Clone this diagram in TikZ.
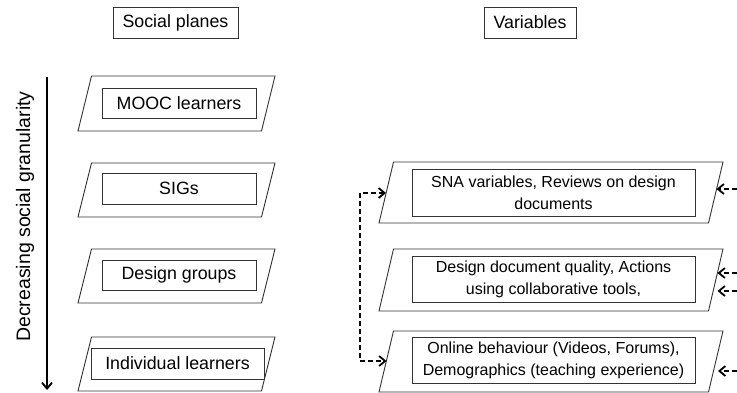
\documentclass[tikz,border=0pt]{standalone}
\usepackage{fontspec}
\setmainfont{Liberation Sans}
\usetikzlibrary{arrows.meta}
\begin{document}
\begin{tikzpicture}[x=1pt,y=-1pt,
  >={Straight Barb[length=6pt,width=10pt]},
  plane/.style={draw=black!80,line width=0.9pt},
  boxbase/.style={draw=black!80,line width=0.9pt,inner sep=0pt,align=center},
  lbox/.style={boxbase,font=\fontsize{17.8}{21}\selectfont},
  rbox/.style={boxbase,font=\fontsize{16}{22}\selectfont},
  dashconn/.style={line width=1.8pt,dash pattern=on 5pt off 3pt},
]
\useasboundingbox (0,0) rectangle (737,392);

% titles
\node[lbox,minimum width=125pt,minimum height=31pt] (tsocial) at (175.5,22.5) {Social planes};
\node[lbox,minimum width=92pt,minimum height=31pt] (tvar) at (530,22.5) {Variables};

% left parallelograms
\draw[plane] (78,131) -- (91.5,76) -- (275,76) -- (261.5,131) -- cycle;
\draw[plane] (78,217) -- (91.5,163) -- (275,163) -- (261.5,217) -- cycle;
\draw[plane] (78,303) -- (91.5,249) -- (275,249) -- (261.5,303) -- cycle;
\draw[plane] (78,391) -- (91.5,337) -- (275,337) -- (261.5,391) -- cycle;

\node[lbox,minimum width=154pt,minimum height=30pt] (mooc) at (179,103) {MOOC learners};
\node[lbox,minimum width=154pt,minimum height=31pt] (sigs) at (179,188.5) {SIGs};
\node[lbox,minimum width=154pt,minimum height=30pt] (dgroups) at (179,275) {Design groups};
\node[lbox,minimum width=173pt,minimum height=31pt] (indiv) at (177.5,363.5) {Individual learners};

% granularity arrow
\coordinate (gtop) at (47,77);
\coordinate (gbot) at (47,390);
\draw[line width=1.8pt,->] (gtop) -- (gbot);
\node[rotate=90,font=\fontsize{19.5}{22}\selectfont] (gran) at (25,216.5) {Decreasing social granularity};

% right parallelograms
\draw[plane] (379,223) -- (393.5,162) -- (723,162) -- (708.5,223) -- cycle;
\draw[plane] (379,311) -- (393.5,249) -- (723,249) -- (708.5,311) -- cycle;
\draw[plane] (379,392) -- (393.5,331) -- (723,331) -- (708.5,392) -- cycle;

\node[rbox,minimum width=283pt,minimum height=47pt] (sna) at (553.5,192.5) {SNA variables, Reviews on design\\documents};
\node[rbox,minimum width=283pt,minimum height=46pt] (ddq) at (553.5,279) {Design document quality, Actions\\using collaborative tools,};
\node[rbox,minimum width=283pt,minimum height=46pt] (online) at (553.5,360) {Online behaviour (Videos, Forums),\\Demographics (teaching experience)};

% left dashed connector
\coordinate (lt) at (386,193);
\coordinate (cornerT) at (360,193);
\coordinate (cornerB) at (360,361);
\coordinate (lb) at (386.5,361);
\draw[dashconn,<->] (lt) -- (cornerT) -- (cornerB) -- (lb);

% right incoming dashed arrows
\coordinate (r1s) at (737,189);
\coordinate (r1e) at (716.5,189);
\coordinate (r2s) at (737,273);
\coordinate (r2e) at (717.5,273);
\coordinate (r3s) at (737,291);
\coordinate (r3e) at (717.5,291);
\coordinate (r4s) at (737,371);
\coordinate (r4e) at (718,371);
\draw[dashconn,->] (r1s) -- (r1e);
\draw[dashconn,->] (r2s) -- (r2e);
\draw[dashconn,->] (r3s) -- (r3e);
\draw[dashconn,->] (r4s) -- (r4e);
\end{tikzpicture}
\end{document}
